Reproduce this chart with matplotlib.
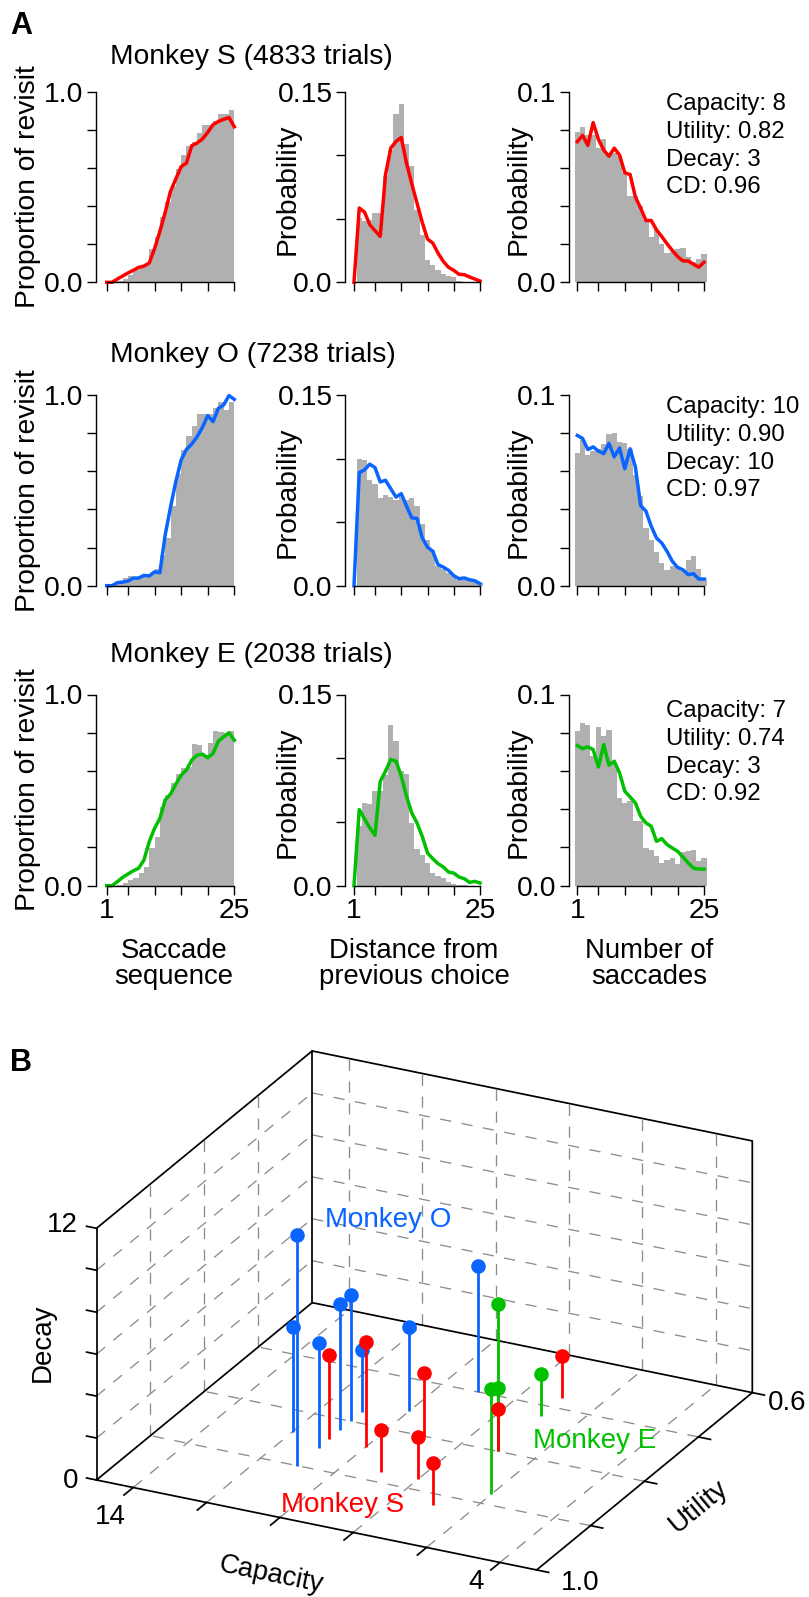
import matplotlib
matplotlib.use('Agg')
import matplotlib.pyplot as plt
import numpy as np
from mpl_toolkits.mplot3d import proj3d

plt.rcParams['font.family'] = ['Liberation Sans', 'DejaVu Sans']

W, H = 809, 1597
GRIS = '#b0b0b0'
ROJO = '#ff0000'
AZUL = '#0a64ff'
VERDE = '#00c000'

x_vals = np.arange(1, 26)

# Monkey S
s_rev_bar = [0, 0, 0, .005, .019, .037, .063, .08, .098, .176, .24, .341, .42, .507, .594, .669, .716, .733, .78, .824, .824, .847, .882, .882, .902]
s_rev_line = [0, 0, .017, .033, .049, .063, .078, .085, .101, .176, .267, .366, .477, .542, .606, .625, .716, .73, .751, .786, .826, .843, .854, .864, .815]
s_dist_bar = [0, .0505, .048, .049, .0545, .0545, .0838, .104, .132, .14, .109, .0916, .057, .0374, .0178, .0139, .0099, .0068, .0047, .0042, .0008, .0005, .0003, .0002, 0]
s_dist_line = [0, .0584, .0552, .0453, .0406, .0361, .0846, .1055, .1107, .1139, .0937, .0775, .0623, .0471, .034, .0309, .023, .0165, .0118, .0094, .0063, .006, .0042, .0026, .001]
s_num_bar = [.0788, .0814, .077, .077, .0705, .0753, .067, .0679, .0661, .0574, .0454, .0454, .0398, .0325, .024, .0275, .02, .0153, .0161, .0175, .0179, .0135, .0109, .0123, .0147]
s_num_line = [.0737, .077, .0718, .0837, .0749, .0693, .0661, .0703, .0667, .0574, .0565, .0447, .0389, .0324, .0324, .0275, .024, .0202, .0167, .0135, .0112, .0112, .0095, .0079, .0105]

# Monkey O
o_rev_bar = [0, 0, .005, .012, .038, .05, .04, .045, .05, .06, .09, .161, .252, .418, .586, .712, .787, .839, .899, .899, .899, .93, .965, .921, .965]
o_rev_line = [0, 0, .016, .019, .024, .04, .04, .054, .051, .073, .068, .266, .411, .546, .659, .715, .743, .781, .83, .892, .86, .93, .948, .997, .977]
o_dist_bar = [0, .1, .0989, .0832, .0803, .0692, .0711, .0697, .0674, .07, .0674, .0692, .0626, .0489, .0363, .0284, .0158, .0132, .01, .0074, .0047, .0042, .0034, .0026, .002]
o_dist_line = [0, .0889, .0911, .0956, .0929, .0816, .0829, .0763, .0697, .0724, .0626, .0534, .0529, .0376, .0303, .0271, .0166, .0147, .0121, .0079, .0055, .0061, .0047, .0039, .0016]
o_num_bar = [.0697, .0764, .0683, .0706, .0715, .0741, .0793, .0802, .0755, .0746, .0715, .0583, .0469, .0303, .0242, .0175, .0119, .0081, .0105, .0102, .0075, .0137, .0158, .0088, .004]
o_num_line = [.0788, .0772, .0714, .0728, .0706, .0693, .0746, .0676, .0722, .0613, .0718, .0623, .042, .0391, .0312, .025, .0224, .018, .0128, .0096, .0084, .0058, .0063, .0035, .0035]

# Monkey E
e_rev_bar = [0, 0, 0, .004, .012, .03, .038, .064, .096, .195, .256, .413, .474, .535, .584, .613, .622, .739, .735, .683, .744, .81, .805, .8, .808]
e_rev_line = [0, 0, .021, .044, .061, .078, .091, .134, .23, .3, .352, .448, .479, .531, .578, .605, .657, .683, .688, .669, .692, .756, .779, .8, .761]
e_dist_bar = [0, .0467, .0649, .0644, .0741, .0741, .087, .1259, .1139, .0898, .088, .0492, .0288, .0243, .0178, .0099, .0079, .006, .0026, .0016, .0005, .0003, 0, 0, 0]
e_dist_line = [0, .0597, .0524, .0454, .0396, .0819, .0898, .099, .0977, .0859, .0702, .0571, .0492, .0387, .0257, .0212, .0173, .0147, .0107, .0099, .0068, .0055, .0026, .0034, .0021]
e_num_bar = [.0808, .0852, .0838, .068, .0829, .0785, .0813, .0642, .0459, .0433, .0442, .034, .034, .0197, .0188, .0154, .0119, .0136, .0145, .0113, .0176, .018, .0188, .0131, .0145]
e_num_line = [.0733, .0717, .0726, .0712, .0621, .0738, .063, .0651, .059, .0494, .0464, .0433, .0363, .0328, .0311, .0232, .0246, .0215, .0197, .018, .015, .0119, .0092, .0087, .0087]

titulos = ['Monkey S (4833 trials)', 'Monkey O (7238 trials)', 'Monkey E (2038 trials)']
parametros = [['Capacity: 8', 'Utility: 0.82', 'Decay: 3', 'CD: 0.96'],
              ['Capacity: 10', 'Utility: 0.90', 'Decay: 10', 'CD: 0.97'],
              ['Capacity: 7', 'Utility: 0.74', 'Decay: 3', 'CD: 0.92']]

# Panel B: capacity, utility, decay
s_cap = [11, 10, 9, 9, 8, 7, 7, 7]
s_uti = [.84, .84, .80, .88, .88, .92, .80, .68]
s_dec = [4, 5, 3, 2, 2, 2, 2, 2]
o_cap = [11, 12, 11, 11, 11, 11, 10, 9]
o_uti = [.90, .84, .86, .82, .80, .78, .76, .70]
o_dec = [11, 5, 5, 6, 6, 3, 4, 6]
e_cap = [7, 6, 7, 7]
e_uti = [.80, .88, .80, .72]
e_dec = [7, 5, 3, 2]

cap_ticks = [14, 12, 10, 8, 6, 4]
uti_ticks = [1.0, .9, .8, .7, .6]
dec_ticks = [0, 2, 4, 6, 8, 10, 12]

fig = plt.figure(figsize=(W / 100, H / 100), dpi=100)


def texto(x, y, s, **kw):
    # posiciones en pixeles de la imagen
    kw.setdefault('fontsize', 20.3)
    kw.setdefault('color', 'black')
    fig.text(x / W, 1 - y / H, s, **kw)


def panel(x_spine, x1, x25, y_top, y_bot, ymax, yticks, ylabels, barras, linea, color, alinear, xlabels):
    pu = (x25 - x1) / 24
    ax = fig.add_axes([x_spine / W, 1 - y_bot / H, (x25 - x_spine) / W, (y_bot - y_top) / H])
    ax.patch.set_visible(False)
    if alinear == 'edge':
        ax.bar(x_vals, barras, width=-1, align='edge', color=GRIS, clip_on=False)
    else:
        ax.bar(x_vals, barras, width=1, color=GRIS, clip_on=False)
    ax.plot(x_vals, linea, color=color, lw=2.5, clip_on=False, solid_joinstyle='round')
    ax.set_xlim(1 - (x1 - x_spine) / pu, 25)
    ax.set_ylim(0, ymax)
    for s in ['top', 'right']:
        ax.spines[s].set_visible(False)
    ax.spines['bottom'].set_bounds(1, 25)
    ax.spines['left'].set_linewidth(1.0)
    ax.spines['bottom'].set_linewidth(1.0)
    ax.set_xticks([1, 5, 10, 15, 20, 25])
    ax.set_xticklabels(['1', '', '', '', '', '25'] if xlabels else [])
    ax.set_yticks(yticks)
    ax.set_yticklabels(ylabels)
    ax.tick_params(axis='both', length=6.5, width=1.0, labelsize=20.3, pad=2.5)
    return ax


filas = [(91.5, 282.3, ROJO, s_rev_bar, s_rev_line, s_dist_bar, s_dist_line, s_num_bar, s_num_line),
         (395, 585.7, AZUL, o_rev_bar, o_rev_line, o_dist_bar, o_dist_line, o_num_bar, o_num_line),
         (694.5, 885.7, VERDE, e_rev_bar, e_rev_line, e_dist_bar, e_dist_line, e_num_bar, e_num_line)]
y_titulo = [57, 355, 655]
y_param = [104, 407, 711]

for i, fila in enumerate(filas):
    y_top, y_bot, color = fila[0], fila[1], fila[2]
    ultima = i == 2
    panel(96, 106.7, 234.3, y_top, y_bot, 1.0, [0, .2, .4, .6, .8, 1.0], ['0.0', '', '', '', '', '1.0'],
          fila[3], fila[4], color, 'edge', ultima)
    panel(345, 354, 480, y_top, y_bot, .15, [0, .05, .10, .15], ['0.0', '', '', '0.15'],
          fila[5], fila[6], color, 'center', ultima)
    panel(568.7, 577.3, 704, y_top, y_bot, .1, [0, .02, .04, .06, .08, .1], ['0.0', '', '', '', '', '0.1'],
          fila[7], fila[8], color, 'center', ultima)
    y_mid = (y_top + y_bot) / 2
    texto(28, y_mid, 'Proportion of revisit', rotation=90, ha='center', va='center')
    texto(288, y_mid + 2, 'Probability', rotation=90, ha='center', va='center')
    texto(519, y_mid + 2, 'Probability', rotation=90, ha='center', va='center')
    texto(110, y_titulo[i], titulos[i], ha='left', va='center')
    for j, t in enumerate(parametros[i]):
        texto(666, y_param[i] + j * 27.8, t, ha='left', va='center', fontsize=17.3)

texto(174, 964, 'Saccade\nsequence', ha='center', va='center', linespacing=1.03, fontsize=19.8)
texto(414, 964, 'Distance from\nprevious choice', ha='center', va='center', linespacing=1.03, fontsize=19.8)
texto(649, 964, 'Number of\nsaccades', ha='center', va='center', linespacing=1.03, fontsize=19.8)
texto(10, 26, 'A', fontweight='bold', fontsize=22, ha='left', va='center')
texto(10, 1063, 'B', fontweight='bold', fontsize=22, ha='left', va='center')

# Panel B, proyeccion ortografica
ax3 = fig.add_axes([.05, .05, .9, .9 * W / H], projection='3d', proj_type='ortho', computed_zorder=False)
ax3.set_facecolor('none')
ax3.set_axis_off()
ax3.view_init(elev=24.2, azim=116.5)
ax3.set_box_aspect((491.7, 483.3, 275.9))
ax3.set_xlim(3, 15, view_margin=0)
ax3.set_ylim(.6, 1.0, view_margin=0)
ax3.set_zlim(0, 12, view_margin=0)

DASH = (0, (8.5, 8))
gris_kw = dict(color='#8c8c8c', lw=.95, linestyle=DASH, zorder=1)
negro_kw = dict(color='black', lw=1.25, zorder=2, solid_capstyle='projecting')

for c in cap_ticks:
    ax3.plot([c, c], [1.0, .6], [0, 0], **gris_kw)
    ax3.plot([c, c], [.6, .6], [0, 12], **gris_kw)
    ax3.plot([c, c], [1.0, 1.017], [0, 0], **negro_kw)
for u in uti_ticks[1:-1]:
    ax3.plot([3, 15], [u, u], [0, 0], **gris_kw)
    ax3.plot([15, 15], [u, u], [0, 12], **gris_kw)
for u in uti_ticks:
    ax3.plot([3, 2.67], [u, u], [0, 0], **negro_kw)
for d in dec_ticks[1:-1]:
    ax3.plot([15, 15], [1.0, .6], [d, d], **gris_kw)
    ax3.plot([15, 3], [.6, .6], [d, d], **gris_kw)
for d in dec_ticks:
    ax3.plot([15, 15.27], [1.0, 1.0], [d, d], **negro_kw)

# marco
ax3.plot([15, 3, 3, 15, 15], [1.0, 1.0, .6, .6, 1.0], [0, 0, 0, 0, 0], **negro_kw)
ax3.plot([15, 15, 3, 3], [1.0, .6, .6, .6], [12, 12, 12, 0], **negro_kw)
ax3.plot([15, 15], [1.0, 1.0], [0, 12], **negro_kw)
ax3.plot([15, 15], [.6, .6], [0, 12], **negro_kw)

for cap, uti, dec, color, z in [(o_cap, o_uti, o_dec, AZUL, 3), (e_cap, e_uti, e_dec, VERDE, 4), (s_cap, s_uti, s_dec, ROJO, 5)]:
    for c, u, d in zip(cap, uti, dec):
        ax3.plot([c, c], [u, u], [0, d], color=color, lw=2.0, zorder=z, solid_capstyle='butt')
    ax3.plot(cap, uti, dec, linestyle='none', marker='o', ms=10.5, mew=0, color=color, zorder=z + .5)


def esquina(x, y, z):
    fig.canvas.draw()
    px, py, _ = proj3d.proj_transform(x, y, z, ax3.get_proj())
    return ax3.transData.transform((px, py))


# ajustar la caja a las esquinas del original
izq = np.array([96.5, H - 1480])
der = np.array([752.3, H - 1392.5])
a = esquina(15, 1.0, 0)
b = esquina(3, .6, 0)
esc = (der[0] - izq[0]) / (b[0] - a[0])
pos = ax3.get_position(original=True)
ax3.set_position([pos.x0, pos.y0, pos.width * esc, pos.height * esc])
a = esquina(15, 1.0, 0)
d = (izq - a) / np.array([W, H])
pos = ax3.get_position(original=True)
ax3.set_position([pos.x0 + d[0], pos.y0 + d[1], pos.width, pos.height])

texto(325, 1220, 'Monkey O', color=AZUL, fontsize=20, ha='left', va='center')
texto(533, 1441, 'Monkey E', color=VERDE, fontsize=20, ha='left', va='center')
texto(281, 1505, 'Monkey S', color=ROJO, fontsize=20, ha='left', va='center')
texto(62, 1225, '12', ha='center', va='center', fontsize=20)
texto(71, 1481, '0', ha='center', va='center', fontsize=20)
texto(110, 1517, '14', ha='center', va='center', fontsize=20)
texto(476, 1582, '4', ha='center', va='center', fontsize=20)
texto(580, 1583, '1.0', ha='center', va='center', fontsize=20)
texto(787, 1403, '0.6', ha='center', va='center', fontsize=20)
texto(43, 1343, 'Decay', rotation=90, ha='center', va='center', fontsize=20)
texto(271, 1575, 'Capacity', rotation=-11.6, ha='center', va='center', fontsize=19.6)
texto(699, 1506, 'Utility', rotation=39.5, ha='center', va='center', fontsize=20)

plt.savefig('out.png', dpi=100)
plt.close()
